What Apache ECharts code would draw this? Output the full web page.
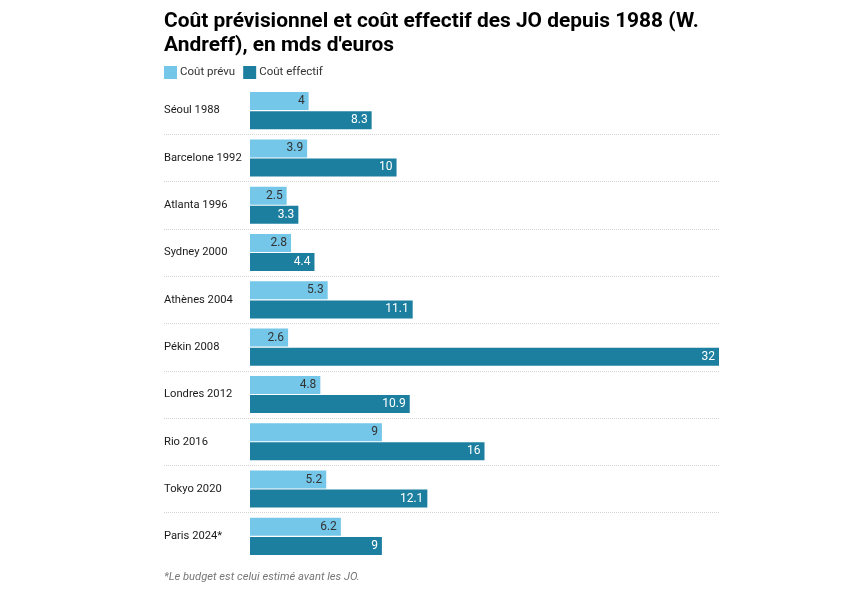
<!DOCTYPE html>
<html><head><meta charset="utf-8">
<script src="https://cdn.jsdelivr.net/npm/echarts@6/dist/echarts.min.js"></script>
<style>html,body{margin:0;padding:0;background:#fff}#c{width:860px;height:597px}</style>
</head><body><div id="c"></div>
<script>
const categories = ['Séoul 1988','Barcelone 1992','Atlanta 1996','Sydney 2000','Athènes 2004','Pékin 2008','Londres 2012','Rio 2016','Tokyo 2020','Paris 2024*'];
const coutPrevu = [4, 3.9, 2.5, 2.8, 5.3, 2.6, 4.8, 9, 5.2, 6.2];
const coutEffectif = [8.3, 10, 3.3, 4.4, 11.1, 32, 10.9, 16, 12.1, 9];
const seriesNames = ['Coût prévu', 'Coût effectif'];

const chart = echarts.init(document.getElementById('c'));
const FONT = 'Roboto';
chart.setOption({
  animation: false,
  textStyle: { fontFamily: FONT },
  title: [{
    text: 'Coût prévisionnel et coût effectif des JO depuis 1988 (W.\nAndreff), en mds d\'euros',
    left: 164, top: 10, padding: 0,
    textStyle: { fontFamily: FONT, fontSize: 20.9, fontWeight: 'bold', color: '#000', lineHeight: 24 }
  }, {
    text: '*Le budget est celui estimé avant les JO.',
    left: 164, top: 572, padding: 0,
    textStyle: { fontFamily: FONT, fontSize: 11.2, fontStyle: 'italic', fontWeight: 'normal', color: '#777' }
  }],
  legend: {
    left: 164, top: 66, padding: 0,
    itemWidth: 13, itemHeight: 13, itemGap: 8,
    icon: 'rect',
    textStyle: { fontFamily: FONT, fontSize: 11.5, color: '#333', padding: [0, 0, 0, -2] },
    data: seriesNames
  },
  grid: [
    { left: 250, right: 141, top: 87, height: 473 },
    { left: 164, right: 141, top: 87, height: 473 }
  ],
  xAxis: [
    { type: 'value', gridIndex: 0, min: 0, max: 32, show: false },
    { type: 'value', gridIndex: 1, min: 0, max: 1, show: false }
  ],
  yAxis: [
    { type: 'category', gridIndex: 0, data: categories, inverse: true,
      axisLine: { show: false }, axisTick: { show: false }, splitLine: { show: false },
      axisLabel: { align: 'left', margin: 86, fontFamily: FONT, fontSize: 11.2, color: '#1a1a1a' } },
    { type: 'value', gridIndex: 1, min: 0, max: 10, interval: 1,
      axisLine: { show: false }, axisTick: { show: false }, axisLabel: { show: false },
      splitLine: { show: true, showMinLine: false, showMaxLine: false,
        lineStyle: { type: 'dotted', color: '#d4d4d4', width: 1 } } }
  ],
  series: [
    { name: seriesNames[0], type: 'bar', xAxisIndex: 0, yAxisIndex: 0, data: coutPrevu,
      barWidth: 18, barGap: '6%',
      itemStyle: { color: '#74c7e8' },
      label: { show: true, position: 'insideRight', distance: 4, fontFamily: FONT, fontSize: 12, color: '#333' } },
    { name: seriesNames[1], type: 'bar', xAxisIndex: 0, yAxisIndex: 0, data: coutEffectif,
      barWidth: 18,
      itemStyle: { color: '#1d7fa0' },
      label: { show: true, position: 'insideRight', distance: 4, fontFamily: FONT, fontSize: 12, color: '#fff' } }
  ]
});
</script></body></html>
